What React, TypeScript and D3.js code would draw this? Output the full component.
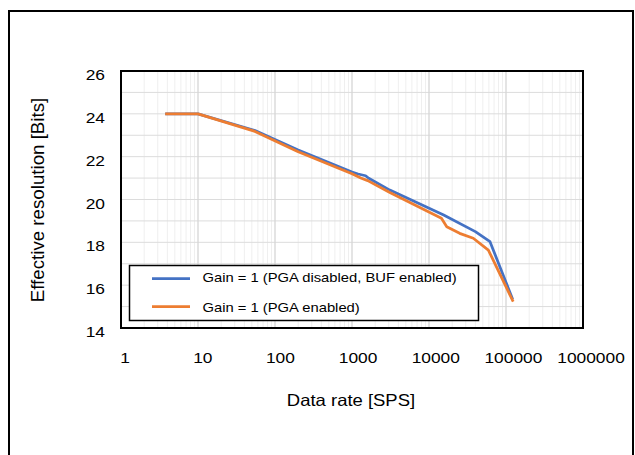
import React from "react";
import * as d3 from "d3";

const rateBlue = [3.75, 10, 55, 200, 1000, 1200, 1500, 1650, 3100, 15500, 40000, 62000, 122000];
const enobBlue = [24, 24, 23.22, 22.31, 21.28, 21.19, 21.11, 20.99, 20.44, 19.28, 18.5, 18.03, 15.34];
const rateOrange = [3.75, 10, 55, 200, 1000, 1300, 1600, 3100, 14500, 17000, 25000, 37600, 59000, 124000];
const enobOrange = [24, 24, 23.18, 22.23, 21.2, 21.0, 20.88, 20.33, 19.12, 18.73, 18.42, 18.19, 17.64, 15.23];

const seriesNames = ["Gain = 1 (PGA disabled, BUF enabled)", "Gain = 1 (PGA enabled)"];
const seriesColors = ["#4472C4", "#ED7D31"];
const xTicks = [1, 10, 100, 1000, 10000, 100000, 1000000];
const yTicks = [14, 16, 18, 20, 22, 24, 26];
const xTitle = "Data rate [SPS]";
const yTitle = "Effective resolution [Bits]";

const FONT = "'Liberation Sans', Arial, sans-serif";
const SX = 1.12;

export default function App() {
  const W = 635, H = 455;
  const x = d3.scaleLog().domain([1, 1e6]).range([121, 583]);
  const y = d3.scaleLinear().domain([14, 26]).range([328, 71]);

  const minorX: number[] = [];
  for (let d = 1; d < 1e6; d *= 10) for (let k = 2; k <= 9; k++) minorX.push(d * k);
  const hGrid = d3.range(15, 26, 1);

  const line = d3.line<[number, number]>().x(d => x(d[0])).y(d => y(d[1]));
  const blue = rateBlue.map((r, i) => [r, enobBlue[i]] as [number, number]);
  const orange = rateOrange.map((r, i) => [r, enobOrange[i]] as [number, number]);

  const [x0, x1] = x.range();
  const [y0, y1] = y.range();

  return (
    <svg width={W} height={H} style={{ position: "absolute", left: 0, top: 0, background: "#fff" }}>
      <rect x={9} y={11} width={624} height={470} fill="#fff" stroke="#000" strokeWidth={2} />
      {minorX.map(v => (
        <line key={"mx" + v} x1={x(v)} x2={x(v)} y1={y1} y2={y0} stroke="#efefef" strokeWidth={1} />
      ))}
      {hGrid.map(v => (
        <line key={"hy" + v} x1={x0} x2={x1} y1={y(v)} y2={y(v)} stroke="#dcdcdc" strokeWidth={1} />
      ))}
      {xTicks.map(v => (
        <line key={"gx" + v} x1={x(v)} x2={x(v)} y1={y1} y2={y0} stroke="#d6d6d6" strokeWidth={1.3} />
      ))}
      <path d={line(blue) || ""} fill="none" stroke={seriesColors[0]} strokeWidth={2.75} strokeLinejoin="round" />
      <path d={line(orange) || ""} fill="none" stroke={seriesColors[1]} strokeWidth={2.75} strokeLinejoin="round" />
      <rect x={x0} y={y1} width={x1 - x0} height={y0 - y1} fill="none" stroke="#000" strokeWidth={2} />
      {yTicks.map(v => (
        <text key={"yt" + v} transform={`translate(105,${y(v) + 3.5}) scale(${SX},1)`} dy="0.36em" textAnchor="end" fontFamily={FONT} fontSize={15.5} fill="#000">
          {v}
        </text>
      ))}
      {xTicks.map(v => {
        const s = String(v);
        return (
          <text key={"xt" + v} transform={`translate(${x(v) + 3.5 + 0.65 * s.length},357.5) scale(${SX},1)`} dy="0.36em" textAnchor="middle" fontFamily={FONT} fontSize={15.5} fill="#000">
            {s}
          </text>
        );
      })}
      <text transform={`translate(351,400) scale(${SX},1)`} dy="0.36em" textAnchor="middle" fontFamily={FONT} fontSize={16.5} fill="#000">
        {xTitle}
      </text>
      <text transform="translate(38,200) rotate(-90) scale(1.07,1)" dy="0.36em" textAnchor="middle" fontFamily={FONT} fontSize={17.5} fill="#000">
        {yTitle}
      </text>
      <rect x={129.5} y={265.5} width={349} height={55} fill="#fff" stroke="#000" strokeWidth={1.5} />
      {seriesNames.map((n, i) => (
        <g key={n}>
          <line x1={152} x2={190} y1={278.5 + i * 28} y2={278.5 + i * 28} stroke={seriesColors[i]} strokeWidth={2.75} />
          <text transform={`translate(202.5,${277.5 + i * 30}) scale(${SX},1)`} dy="0.36em" fontFamily={FONT} fontSize={13.2} fill="#000">
            {n}
          </text>
        </g>
      ))}
    </svg>
  );
}
